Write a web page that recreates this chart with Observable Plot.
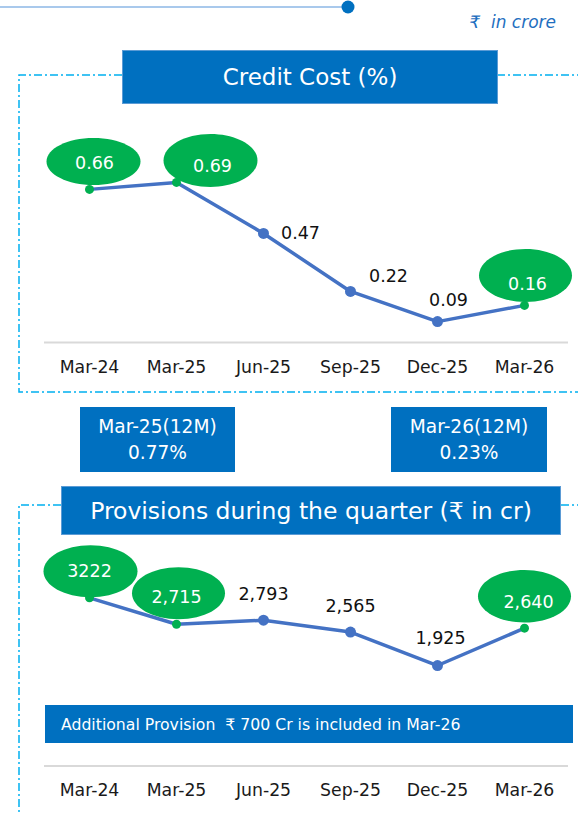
<!DOCTYPE html>
<html>
<head>
<meta charset="utf-8">
<script src="https://cdn.jsdelivr.net/npm/d3@7"></script>
<script src="https://cdn.jsdelivr.net/npm/@observablehq/plot@0.6"></script>
<style>
  html, body { margin: 0; padding: 0; background: #ffffff; }
  body { width: 578px; height: 814px; position: relative; overflow: hidden; font-family: "DejaVu Sans", sans-serif; }
  .box { position: absolute; background: #0070c0; color: #ffffff; display: flex; align-items: center; justify-content: center; text-align: center; box-sizing: border-box; }
  .unit { position: absolute; right: 22px; top: 12px; color: #1f6fbf; font-style: italic; font-size: 17px; white-space: pre; }
</style>
</head>
<body>
<div id="root"></div>
<script>
// ---------- data ----------
const categories = ["Mar-24", "Mar-25", "Jun-25", "Sep-25", "Dec-25", "Mar-26"];
const creditCost = [0.66, 0.69, 0.47, 0.22, 0.09, 0.16];
const creditCostLabels = ["0.66", "0.69", "0.47", "0.22", "0.09", "0.16"];
const provisions = [3222, 2715, 2793, 2565, 1925, 2640];
const provisionLabels = ["3222", "2,715", "2,793", "2,565", "1,925", "2,640"];
const highlighted = ["Mar-24", "Mar-25", "Mar-26"];
const summaryPeriods = ["Mar-25(12M)", "Mar-26(12M)"];
const summaryValues = ["0.77%", "0.23%"];
const titleCredit = "Credit Cost (%)";
const titleProvisions = "Provisions during the quarter (₹ in cr)";
const unitNote = "₹  in crore";
const bannerNote = "Additional Provision  ₹ 700 Cr is included in Mar-26";

// ---------- layout / style ----------
const BLUE_LINE = "#4472c4";
const GREEN = "#00b050";
const BOX = "#0070c0";
const FRAME = "#00b0f0";

function ellipse(rx, ry) {
  const k = 0.5523;
  return {
    draw(ctx) {
      ctx.moveTo(rx, 0);
      ctx.bezierCurveTo(rx, ry * k, rx * k, ry, 0, ry);
      ctx.bezierCurveTo(-rx * k, ry, -rx, ry * k, -rx, 0);
      ctx.bezierCurveTo(-rx, -ry * k, -rx * k, -ry, 0, -ry);
      ctx.bezierCurveTo(rx * k, -ry, rx, -ry * k, rx, 0);
      ctx.closePath();
    }
  };
}

function lineChart(values, labels, cfg) {
  const data = categories.map((c, i) => ({cat: c, v: values[i], label: labels[i], hi: highlighted.includes(c), i}));
  const marks = [
    Plot.ruleY([0], {stroke: "#d9d9d9", strokeWidth: 2}),
    Plot.line(data, {x: "cat", y: "v", stroke: BLUE_LINE, strokeWidth: 3.5})
  ];
  data.forEach((d, i) => {
    if (d.hi) {
      const [dx, dy, rx, ry] = cfg.ell[i];
      marks.push(Plot.dot([d], {x: "cat", y: "v", dx, dy, fill: GREEN, stroke: "none", symbol: ellipse(rx, ry)}));
    }
  });
  marks.push(Plot.dot(data.filter(d => !d.hi), {x: "cat", y: "v", r: 5.5, fill: BLUE_LINE}));
  marks.push(Plot.dot(data.filter(d => d.hi), {x: "cat", y: "v", r: 4.5, fill: GREEN}));
  data.forEach((d, i) => {
    const [dx, dy] = cfg.lab[i];
    marks.push(Plot.text([d], {x: "cat", y: "v", text: "label", dx, dy, fill: d.hi ? "#ffffff" : "#111111",
      fontSize: 17.5, lineAnchor: "middle", textAnchor: "middle"}));
  });
  marks.push(Plot.text(categories, {x: d => d, frameAnchor: "bottom", dy: cfg.tickDy, fontSize: 17.3,
    fill: "#1a1a1a", lineAnchor: "middle", textAnchor: "middle"}));
  const svg = Plot.plot({
    width: 578,
    height: cfg.height,
    marginLeft: 44,
    marginRight: 10,
    marginTop: cfg.marginTop,
    marginBottom: cfg.marginBottom,
    x: {type: "point", domain: categories, padding: 0.5, axis: null},
    y: {domain: cfg.domain, axis: null},
    style: {fontFamily: "DejaVu Sans, sans-serif", background: "transparent", overflow: "visible"},
    marks
  });
  svg.style.position = "absolute";
  svg.style.left = "0px";
  svg.style.top = cfg.top + "px";
  return svg;
}

const root = document.getElementById("root");

// decorative frame lines
const deco = d3.create("svg").attr("width", 578).attr("height", 814)
  .style("position", "absolute").style("left", "0px").style("top", "0px");
deco.append("line").attr("x1", 0).attr("x2", 344).attr("y1", 7).attr("y2", 7)
  .attr("stroke", "#a9c9ec").attr("stroke-width", 2);
deco.append("circle").attr("cx", 348).attr("cy", 7).attr("r", 6.5).attr("fill", BOX);
const dash = "8 3 2 3";
[
  "M122,75 H19 V392 H578",
  "M497,75 H578",
  "M61,505 H19 V814",
  "M561,505 H578"
].forEach(p => deco.append("path").attr("d", p).attr("fill", "none")
  .attr("stroke", FRAME).attr("stroke-width", 1.5).attr("stroke-dasharray", dash));
root.appendChild(deco.node());

// unit note
const unit = document.createElement("div");
unit.className = "unit";
unit.textContent = unitNote;
root.appendChild(unit);

function addBox(x, y, w, h, html, fs, border) {
  const b = document.createElement("div");
  b.className = "box";
  Object.assign(b.style, {left: x + "px", top: y + "px", width: w + "px", height: h + "px", fontSize: fs + "px"});
  if (border) b.style.border = "1px solid #5b9bd5";
  b.innerHTML = html;
  root.appendChild(b);
  return b;
}

addBox(122, 50, 376, 54, titleCredit, 23, true);

// chart 1
root.appendChild(lineChart(creditCost, creditCostLabels, {
  top: 105, height: 290, marginTop: 5, marginBottom: 53, domain: [0, 1], tickDy: 25,
  ell: {0: [4, -28, 47, 23.5], 1: [34, -22, 47, 26.5], 5: [1, -30, 46.5, 26.5]},
  lab: [[5, -26], [36, -16], [37, 0], [38, -15], [11, -21], [3, -21]]
}));

// summary boxes
const sb = [[80, 155], [391, 156]];
summaryPeriods.forEach((p, i) => {
  addBox(sb[i][0], 407, sb[i][1], 65, `<div style="line-height:25.5px">${p}<br>${summaryValues[i]}</div>`, 18.6, false);
});

addBox(61, 486, 500, 49, titleProvisions, 23.5, true);

// chart 2
root.appendChild(lineChart(provisions, provisionLabels, {
  top: 540, height: 274, marginTop: 16.7, marginBottom: 48.5, domain: [0, 4000], tickDy: 24,
  ell: {0: [1, -26.5, 47, 26], 1: [2, -31, 46.5, 26], 5: [0, -32, 46.5, 26.3]},
  lab: [[0, -26.6], [0, -27], [0, -26], [0, -26], [3, -27], [4, -26]]
}));

// banner
const banner = document.createElement("div");
Object.assign(banner.style, {position: "absolute", left: "45px", top: "705px", width: "528px", height: "38px",
  background: BOX, color: "#ffffff", fontSize: "15.7px", display: "flex", alignItems: "center",
  paddingLeft: "16px", boxSizing: "border-box", whiteSpace: "pre"});
banner.textContent = bannerNote;
root.appendChild(banner);
</script>
</body>
</html>
